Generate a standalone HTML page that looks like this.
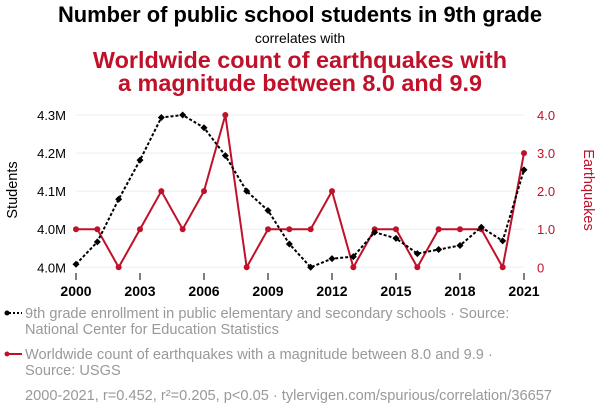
<!DOCTYPE html>
<html><head><meta charset="utf-8"><style>
body{margin:0;background:#fff;font-family:"Liberation Sans",sans-serif}
svg text{font-family:"Liberation Sans",sans-serif}
</style></head><body>
<svg width="600" height="414" viewBox="0 0 600 414">
<text x="300" y="22" text-anchor="middle" font-size="21.9" font-weight="bold" fill="#000">Number of public school students in 9th grade</text>
<text x="300" y="43" text-anchor="middle" font-size="14" fill="#000">correlates with</text>
<text x="300" y="68" text-anchor="middle" font-size="23.4" font-weight="bold" fill="#c0112b">Worldwide count of earthquakes with</text>
<text x="300" y="91" text-anchor="middle" font-size="23.4" font-weight="bold" fill="#c0112b">a magnitude between 8.0 and 9.9</text>
<text transform="translate(17,190) rotate(-90)" text-anchor="middle" font-size="14.5" fill="#000">Students</text>
<text transform="translate(584,190) rotate(90)" text-anchor="middle" font-size="14.5" fill="#c0112b">Earthquakes</text>
<g id="grid"></g><g id="axes"></g><g id="marks"></g>
<g font-size="14.6" fill="#999">
<line x1="5" y1="313" x2="22" y2="313" stroke="#000" stroke-width="2" stroke-dasharray="2,2"/>
<circle cx="7" cy="313" r="2.5" fill="#000"/>
<text x="25" y="318">9th grade enrollment in public elementary and secondary schools · Source:</text>
<text x="25" y="334">National Center for Education Statistics</text>
<line x1="5" y1="354" x2="22" y2="354" stroke="#c0112b" stroke-width="2"/>
<circle cx="7" cy="354" r="2.5" fill="#c0112b"/>
<text x="25" y="359">Worldwide count of earthquakes with a magnitude between 8.0 and 9.9 ·</text>
<text x="25" y="375">Source: USGS</text>
<text x="25" y="400">2000-2021, r=0.452, r²=0.205, p&lt;0.05 · tylervigen.com/spurious/correlation/36657</text>
</g>
</svg>
<script>
const years=[2000,2001,2002,2003,2004,2005,2006,2007,2008,2009,2010,2011,2012,2013,2014,2015,2016,2017,2018,2019,2020,2021];
const students=[4.006,4.050,4.134,4.211,4.295,4.300,4.275,4.220,4.150,4.112,4.046,4.000,4.017,4.021,4.069,4.057,4.027,4.035,4.043,4.079,4.052,4.192];
const quakes=[1,1,0,1,2,1,2,4,0,1,1,1,2,0,1,1,0,1,1,1,0,3];
const leftTicks=[4.0,4.075,4.15,4.225,4.3];
const leftLabels=["4.0M","4.0M","4.1M","4.2M","4.3M"];
const rightTicks=[0,1,2,3,4];
const rightLabels=["0","1.0","2.0","3.0","4.0"];
const xTicks=[2000,2003,2006,2009,2012,2015,2018,2021];
const NS="http://www.w3.org/2000/svg";
const x=v=>76+(v-2000)*(524-76)/21;
const yL=v=>267.3-(v-4.0)*(152.3/0.3);
const yR=v=>267.3-v*152.3/4;
function mk(tag,attrs,parent){const e=document.createElementNS(NS,tag);for(const k in attrs)e.setAttribute(k,attrs[k]);document.getElementById(parent).appendChild(e);return e;}
leftTicks.forEach((t,i)=>{
 const g=mk('line',{x1:76,x2:524,y1:yL(t),y2:yL(t),stroke:'#eee','stroke-width':1},'grid');
 
 
 const l=mk('text',{x:66,y:yL(t)+5,'text-anchor':'end','font-size':13,fill:'#000'},'axes');l.textContent=leftLabels[i];
 
 
});
rightTicks.forEach((t,i)=>{
 const l=mk('text',{x:537,y:yR(t)+5,'font-size':13,fill:'#c0112b'},'axes');l.textContent=rightLabels[i];
 
 
});
xTicks.forEach(t=>{
 const tk=mk('line',{x1:x(t),x2:x(t),y1:273,y2:280,stroke:'#000','stroke-width':1},'axes');
 
 
 const l=mk('text',{x:x(t),y:296,'text-anchor':'middle','font-size':14,'font-weight':'bold',fill:'#000'},'axes');l.textContent=t;
 
 
});
const rp=mk('polyline',{points:years.map((yr,i)=>x(yr)+','+yR(quakes[i])).join(' '),fill:'none',stroke:'#c0112b','stroke-width':2},'marks');


years.forEach((yr,i)=>{const c=mk('circle',{cx:x(yr),cy:yR(quakes[i]),r:3,fill:'#c0112b'},'marks');
 
 });
const bp=mk('polyline',{points:years.map((yr,i)=>x(yr)+','+yL(students[i])).join(' '),fill:'none',stroke:'#000','stroke-width':2,'stroke-dasharray':'3,2'},'marks');


years.forEach((yr,i)=>{const px=x(yr),py=yL(students[i]);const c=mk('polygon',{points:`${px},${py-3.5} ${px+3.5},${py} ${px},${py+3.5} ${px-3.5},${py}`,fill:'#000'},'marks');
 
 });
</script>
</body></html>
